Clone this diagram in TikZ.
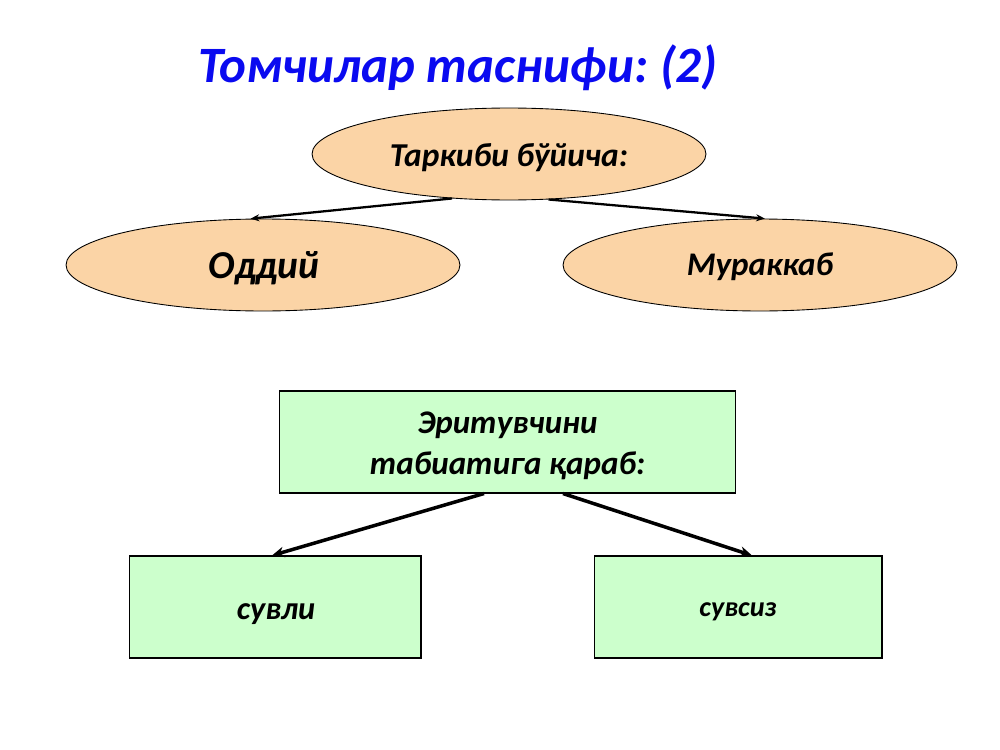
\documentclass[tikz,border=0pt]{standalone}
\usepackage{fontspec}
\setmainfont{Carlito}
\usetikzlibrary{shapes.geometric,arrows.meta}
\definecolor{peach}{RGB}{251,212,166}
\definecolor{mint}{RGB}{204,255,204}
\definecolor{titleblue}{RGB}{10,10,240}
\begin{document}
\begin{tikzpicture}[x=0.02cm,y=-0.02cm,
  oval/.style={ellipse,draw=black,line width=0.5pt,fill=peach,minimum width=7.88cm,minimum height=1.84cm,inner sep=0pt},
  gbox/.style={rectangle,draw=black,line width=0.6pt,fill=mint,inner sep=0pt},
  lbl/.style={inner sep=0pt,align=center},
  thinarrow/.style={-{Stealth[length=5pt,width=4pt]},line width=1.3pt},
  thickarrow/.style={-{Stealth[length=7pt,width=6pt]},line width=2pt}]
\useasboundingbox (0,0) rectangle (1000,750);
\fill[white] (0,0) rectangle (1000,750);
\node[anchor=base,text=titleblue,font=\fontsize{29}{34}\selectfont\bfseries\itshape] (title) at (458,83) {Томчилар таснифи:\kern-2pt{} (2)};
\node[oval] (top) at (509,154) {};
\node[oval] (simple) at (263,265) {};
\node[oval] (complex) at (760,265) {};
\node[lbl,font=\fontsize{19}{22}\selectfont\bfseries\itshape] (toptxt) at (509,158) {Таркиби бўйича:};
\node[lbl,font=\fontsize{22.5}{26}\selectfont\bfseries\itshape] (simpletxt) at (264,268) {Оддий};
\node[lbl,font=\fontsize{18.8}{22}\selectfont\bfseries\itshape] (complextxt) at (760,267) {Мураккаб};
\draw[thinarrow] (top.218) -- (simple.105);
\draw[thinarrow] (top.311) -- (complex.84);
\node[gbox,minimum width=9.14cm,minimum height=2.04cm] (solv) at (507.5,442) {};
\node[gbox,minimum width=5.84cm,minimum height=2.04cm] (wet) at (275,607) {};
\node[gbox,minimum width=5.76cm,minimum height=2.04cm] (dry) at (738,607) {};
\node[lbl,font=\fontsize{18.8}{23}\selectfont\bfseries\itshape] (solvtxt) at (507.5,446) {Эритувчини\\табиатига қараб:};
\node[lbl,font=\fontsize{18.4}{22}\selectfont\bfseries\itshape] (wettxt) at (276,614) {сувли};
\node[lbl,font=\fontsize{16}{19}\selectfont\bfseries\itshape] (drytxt) at (738,612) {сувсиз};
\draw[thickarrow] ([xshift=-0.47cm]solv.south) -- ([xshift=-0.06cm]wet.north);
\draw[thickarrow] ([xshift=1.11cm]solv.south) -- ([xshift=0.28cm]dry.north);
\end{tikzpicture}
\end{document}
